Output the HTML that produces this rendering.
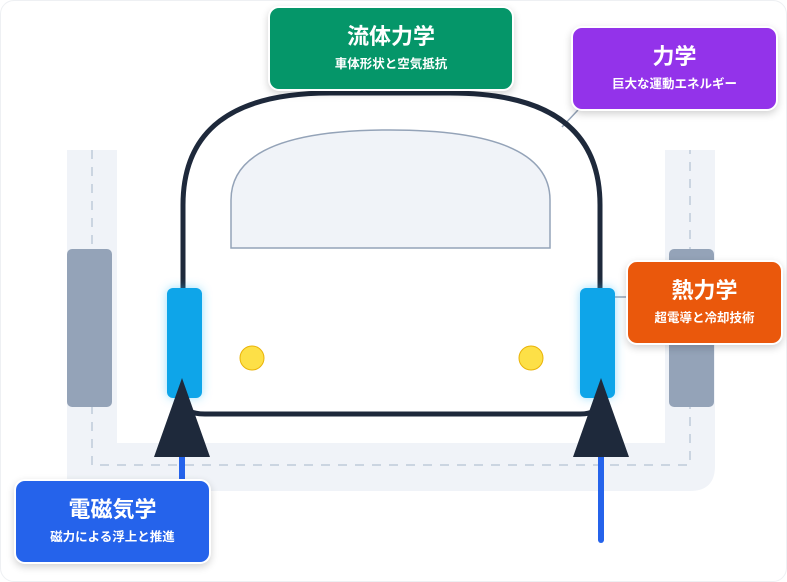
<!DOCTYPE html>
<html><head><meta charset="utf-8"><style>
html,body{margin:0;padding:0;background:#fff;}
body{width:787px;height:568px;position:relative;overflow:hidden;font-family:"Liberation Sans","Noto Sans CJK JP",sans-serif;}
.card{position:absolute;left:0;top:0;width:785px;height:580px;border:1px solid #eef0f3;border-radius:14px;background:#fff;}
.box{position:absolute;border-radius:11px;border:2px solid #fff;box-shadow:0 3px 8px rgba(0,0,0,0.18);color:#fff;text-align:center;box-sizing:border-box;}
.box .t{font-weight:bold;font-size:22px;line-height:26px;}
.box .s{font-weight:bold;font-size:12.5px;line-height:16px;margin-top:6px;}
</style></head><body>
<div class="card"></div>
<svg width="787" height="568" style="position:absolute;left:0;top:0">
<defs><filter id="g" x="-80%" y="-30%" width="260%" height="160%"><feGaussianBlur stdDeviation="5"/></filter></defs>
<path d="M67 150 H117 V443 H665 V150 H715 V466 Q715 491 690 491 H67 Z" fill="#f0f3f8"/>
<path d="M92 150 V465 H690 V150" fill="none" stroke="#cbd5e1" stroke-width="2" stroke-dasharray="9,8"/>
<rect x="67" y="249" width="45" height="158" rx="5" fill="#94a3b8"/>
<rect x="669" y="249" width="45" height="158" rx="5" fill="#94a3b8"/>
<line x1="578" y1="110" x2="562" y2="127" stroke="#94a3b8" stroke-width="1.5"/>
<line x1="614" y1="297" x2="628" y2="297" stroke="#94a3b8" stroke-width="1.5"/>
<path d="M183 400 V205 Q183 93 330 93 H450 Q600 93 600 205 V400 Q600 414 580 414 H205 Q183 414 183 400" fill="none" stroke="#1e293b" stroke-width="5"/>
<path d="M231 248 V200 Q231 130 390 130 Q550 130 550 200 V248 Z" fill="#f0f3f8" stroke="#94a3b8" stroke-width="1.5"/>
<rect x="167" y="288" width="35" height="110" rx="6" fill="#38bdf8" opacity="0.5" filter="url(#g)"/>
<rect x="580" y="288" width="35" height="110" rx="6" fill="#38bdf8" opacity="0.5" filter="url(#g)"/>
<rect x="167" y="288" width="35" height="110" rx="6" fill="#0ea5e9"/>
<rect x="580" y="288" width="35" height="110" rx="6" fill="#0ea5e9"/>
<circle cx="252" cy="358" r="12" fill="#fde047" stroke="#eab308" stroke-width="1"/>
<circle cx="531" cy="358" r="12" fill="#fde047" stroke="#eab308" stroke-width="1"/>
<line x1="182" y1="455" x2="182" y2="480" stroke="#2563eb" stroke-width="6"/>
<line x1="601" y1="455" x2="601" y2="540" stroke="#2563eb" stroke-width="6" stroke-linecap="round"/>
<polygon points="182,378 154,457 210,457" fill="#1e293b"/>
<polygon points="601,378 573,457 629,457" fill="#1e293b"/>
</svg>
<div class="box" style="left:268px;top:6px;width:246px;height:85px;background:#059669;padding-top:16px;"><div class="t">流体力学</div><div class="s">車体形状と空気抵抗</div></div>
<div class="box" style="left:571px;top:26px;width:207px;height:85px;background:#9333ea;padding-top:16px;"><div class="t">力学</div><div class="s">巨大な運動エネルギー</div></div>
<div class="box" style="left:626px;top:260px;width:157px;height:85px;background:#ea580c;padding-top:16px;"><div class="t">熱力学</div><div class="s">超電導と冷却技術</div></div>
<div class="box" style="left:14px;top:479px;width:197px;height:85px;background:#2563eb;padding-top:16px;"><div class="t">電磁気学</div><div class="s">磁力による浮上と推進</div></div>
</body></html>
